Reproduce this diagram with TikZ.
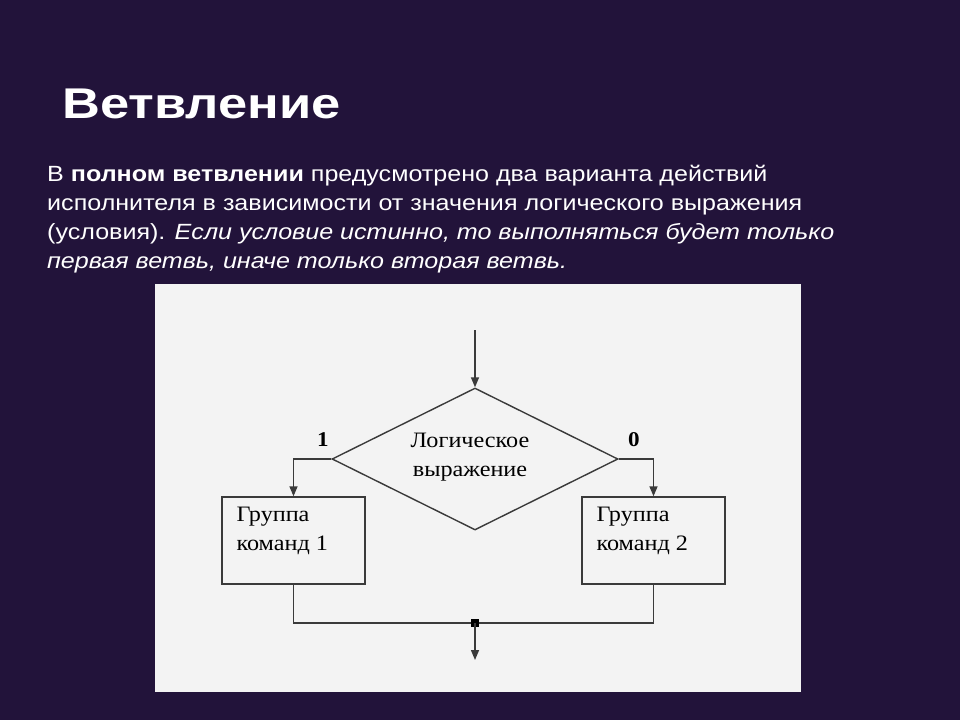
\documentclass[tikz,border=0pt]{standalone}
\usepackage{fontspec}
\setmainfont{Liberation Sans}
\newfontfamily\titlefont[FakeStretch=1.22]{Liberation Sans}
\newfontfamily\bodyfont[FakeStretch=1.14]{Liberation Sans}
\newfontfamily\chartfont[FakeStretch=1.1]{Liberation Serif}
\usetikzlibrary{arrows.meta,shapes.geometric,positioning}
\definecolor{slidebg}{HTML}{22133A}
\definecolor{panelbg}{HTML}{F3F3F3}
\definecolor{flowline}{HTML}{3A3A3A}
\tikzset{
  flow/.style={draw=flowline, line width=1.4pt},
  flowarrow/.style={flow, -{Triangle[length=10pt,width=8pt]}},
  decision/.style={diamond, flow, minimum width=286pt, minimum height=142pt, inner sep=0pt},
  cmdbox/.style={rectangle, flow, minimum width=143pt, minimum height=87pt, inner sep=0pt},
  chartlabel/.style={font=\chartfont\fontsize{22}{28.5}\selectfont, text=black, align=left, inner sep=0pt},
  bodyline/.style={font=\bodyfont\fontsize{22}{29}\selectfont, text=white, anchor=base west, inner sep=0pt}
}
\begin{document}
\begin{tikzpicture}[x=1pt,y=-1pt]
  \fill[slidebg] (0,0) rectangle (960,720);
  \useasboundingbox (0,0) rectangle (960,720);
  % heading and text
  \node[font=\titlefont\bfseries\fontsize{43}{50}\selectfont, text=white, anchor=base west, inner sep=0pt] (title) at (62,118) {Ветвление};
  \node[bodyline] (line1) at (47,181) {В \textbf{полном ветвлении} предусмотрено два варианта действий};
  \node[bodyline] (line2) at (47,210) {исполнителя в зависимости от значения логического выражения};
  \node[bodyline] (line3) at (47,239) {(условия). \textit{Если условие истинно, то выполняться будет только}};
  \node[bodyline] (line4) at (47,268) {\textit{первая ветвь, иначе только вторая ветвь.}};
  % flowchart
  \fill[panelbg] (155,284) rectangle (801,692);
  \coordinate (start) at (475,330);
  \node[decision] (cond) at (475,459) {};
  \node[chartlabel, align=center, anchor=north] (condtext) at (470,433) {Логическое\\выражение};
  \node[cmdbox] (box1) at (293.5,540.5) {};
  \node[cmdbox] (box2) at (653.5,540.5) {};
  \node[chartlabel, anchor=north west] (text1) at ([shift={(15,11)}]box1.north west) {Группа\\команд 1};
  \node[chartlabel, anchor=north west] (text2) at ([shift={(15,11)}]box2.north west) {Группа\\команд 2};
  \node[font=\chartfont\bfseries\fontsize{21}{24}\selectfont] (yes) at (323,440) {1};
  \node[font=\chartfont\bfseries\fontsize{21}{24}\selectfont] (no) at (634,440) {0};
  \coordinate (merge) at (475,623);
  \coordinate (finish) at (475,660);
  \draw[flowarrow] (start) -- (cond.north);
  \draw[flowarrow] (cond.west) -| (box1.north);
  \draw[flowarrow] (cond.east) -| (box2.north);
  \draw[flow] (box1.south) |- (merge) -| (box2.south);
  \fill[black] ([shift={(-4,-4)}]merge) rectangle ([shift={(4,4)}]merge);
  \draw[flowarrow] (merge) -- (finish);
\end{tikzpicture}
\end{document}
